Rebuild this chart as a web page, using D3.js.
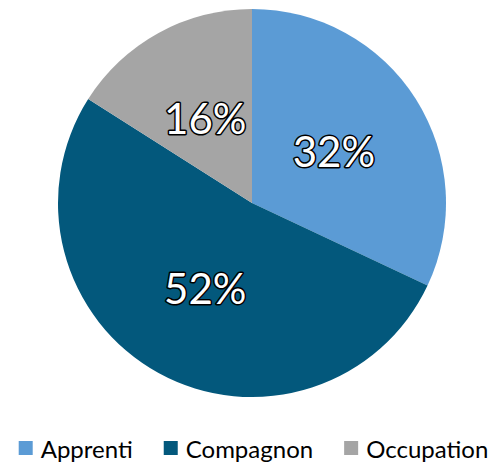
<!DOCTYPE html>
<html>
<head>
<meta charset="utf-8">
<script src="https://cdn.jsdelivr.net/npm/d3@7"></script>
<style>
  html, body { margin: 0; padding: 0; background: #fff; }
  svg { display: block; }
</style>
</head>
<body>
<svg id="chart" width="497" height="462"></svg>
<script>
// chart data
var categories = ["Apprenti", "Compagnon", "Occupation"];
var values = [32, 52, 16];
var labels = ["32%", "52%", "16%"];
var palette = ["#5B9BD5", "#03587C", "#A5A5A5"];

var width = 497,
    height = 462,
    cx = 252,
    cy = 203,
    radius = 194,
    fontFamily = "Lato, 'Open Sans', sans-serif";

var data = categories.map(function(c, i) {
    return { name: c, value: values[i], label: labels[i] };
});

var colors = d3.scaleOrdinal()
    .domain(categories)
    .range(palette);

var pie = d3.pie()
    .sort(null)
    .value(function(d) { return d.value; });

var arc = d3.arc()
    .innerRadius(0)
    .outerRadius(radius);

var labelArc = d3.arc()
    .innerRadius(radius * 0.5)
    .outerRadius(radius * 0.5);

var svg = d3.select("#chart");

var chartArea = svg.append("g")
    .attr("transform", "translate(" + cx + "," + cy + ")");

var slices = pie(data);

chartArea.selectAll(".slice")
    .data(slices)
    .enter()
    .append("path")
    .attr("class", "slice")
    .attr("d", arc)
    .attr("fill", function(d) { return colors(d.data.name); });

chartArea.selectAll(".pct")
    .data(slices)
    .enter()
    .append("text")
    .attr("class", "pct")
    .attr("transform", function(d) { return "translate(" + labelArc.centroid(d) + ")"; })
    .attr("text-anchor", "middle")
    .attr("dominant-baseline", "central")
    .attr("font-family", fontFamily)
    .attr("font-size", "42px")
    .attr("fill", "#fff")
    .attr("stroke", "#000")
    .attr("stroke-width", 3)
    .attr("stroke-linejoin", "round")
    .attr("paint-order", "stroke")
    .text(function(d) { return d.data.label; });

// legend
var legend = svg.append("g");
var rectSize = 14, gap = 8, itemGap = 31, legendY = 448;
var x = 0;
data.forEach(function(d) {
    var item = legend.append("g").attr("transform", "translate(" + x + ",0)");
    item.append("rect")
        .attr("x", 0)
        .attr("y", legendY - rectSize / 2)
        .attr("width", rectSize)
        .attr("height", rectSize)
        .attr("fill", colors(d.name));
    var t = item.append("text")
        .attr("x", rectSize + gap)
        .attr("y", legendY)
        .attr("dominant-baseline", "central")
        .attr("font-family", fontFamily)
        .attr("font-size", "24px")
        .attr("fill", "#000")
        .text(d.name);
    x += rectSize + gap + t.node().getComputedTextLength() + itemGap;
});
x -= itemGap;
legend.attr("transform", "translate(" + ((width - x) / 2 + 5) + ",0)");
</script>
</body>
</html>
